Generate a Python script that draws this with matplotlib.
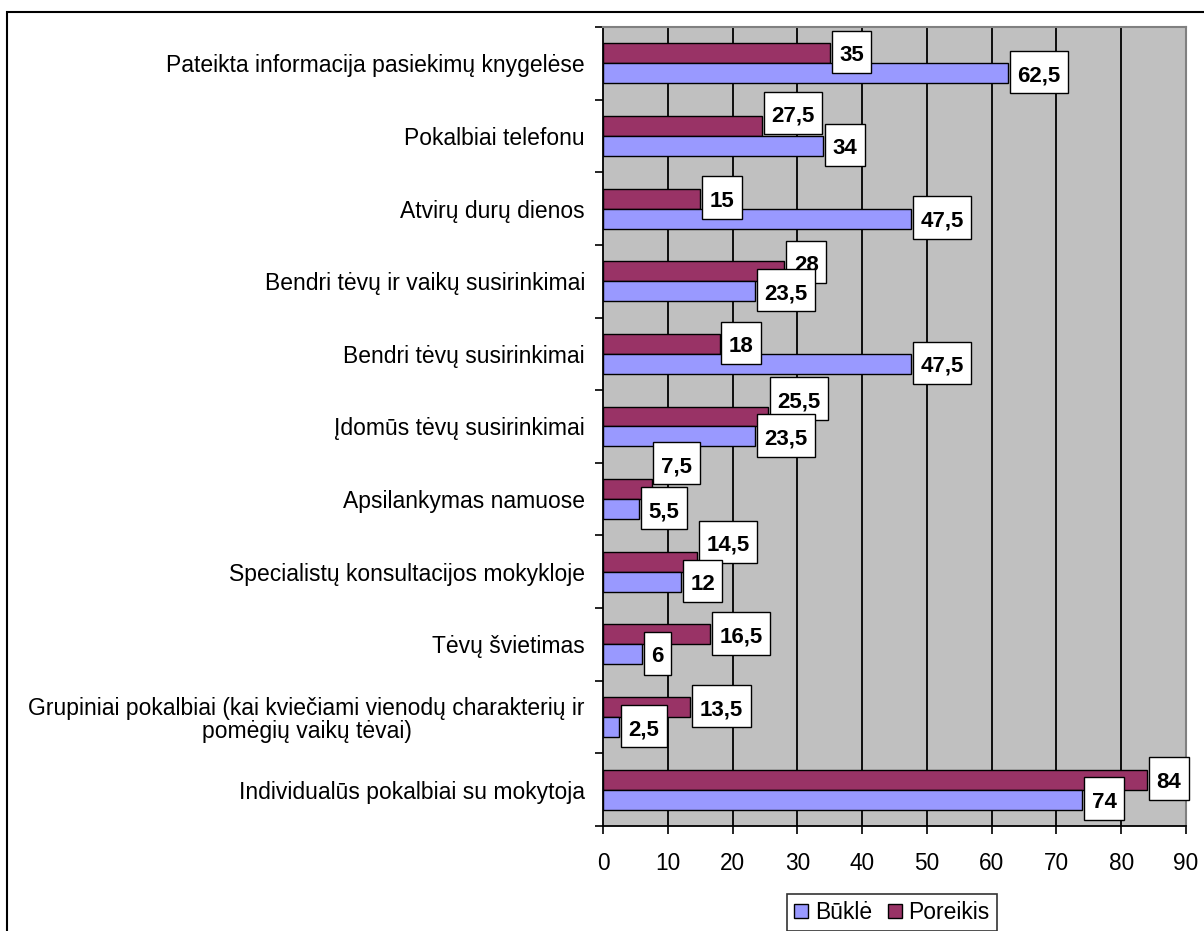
import matplotlib
matplotlib.use("Agg")
import matplotlib.pyplot as plt
from matplotlib.patches import Rectangle, Patch
from matplotlib.path import Path
import numpy as np

plt.rcParams['font.family'] = ['Liberation Sans', 'DejaVu Sans']

categories = [
    "Pateikta informacija pasiekimų knygelėse",
    "Pokalbiai telefonu",
    "Atvirų durų dienos",
    "Bendri tėvų ir vaikų susirinkimai",
    "Bendri tėvų susirinkimai",
    "Įdomūs tėvų susirinkimai",
    "Apsilankymas namuose",
    "Specialistų konsultacijos mokykloje",
    "Tėvų švietimas",
    "Grupiniai pokalbiai (kai kviečiami vienodų charakterių ir\npomėgių vaikų tėvai)",
    "Individualūs pokalbiai su mokytoja",
]
bukle = [62.5, 34, 47.5, 23.5, 47.5, 23.5, 5.5, 12, 6, 2.5, 74]
poreikis = [35, 27.5, 15, 28, 18, 25.5, 7.5, 14.5, 16.5, 13.5, 84]
# bar lengths as drawn in the picture (the "Pokalbiai telefonu" bar is shorter than its label)
poreikis_bar = [35, 24.5, 15, 28, 18, 25.5, 7.5, 14.5, 16.5, 13.5, 84]
series_names = ["Būklė", "Poreikis"]
xticks = [0, 10, 20, 30, 40, 50, 60, 70, 80, 90]

# Poreikis labels that were lifted to avoid the Būklė label (pixels up)
lift_px = [0, 12, 0, 8, 0, 17, 25, 19, 0, 0, 0]

c_bukle = "#9999FF"
c_poreikis = "#993366"

W, H = 1204, 931
fig = plt.figure(figsize=(W / 100, H / 100), dpi=100)
ax = fig.add_axes([603 / W, (H - 826) / H, (1186 - 603) / W, (826 - 27) / H])
ax.set_facecolor("#C0C0C0")

y = np.arange(len(categories))
h = 0.275
ax.barh(y - h / 2, poreikis_bar, height=h, color=c_poreikis, edgecolor="black", linewidth=1, zorder=3)
ax.barh(y + h / 2, bukle, height=h, color=c_bukle, edgecolor="black", linewidth=1, zorder=3)

ax.set_xlim(0, 90)
ax.set_ylim(len(categories) - 0.5, -0.5)
ax.set_xticks(xticks)
ax.set_xticklabels([str(t) for t in xticks], fontsize=16.3)
for t in xticks[1:-1]:
    ax.axvline(t, color="black", linewidth=1.3, zorder=1)

# boundaries as major ticks, category names as minor tick labels
ax.set_yticks(np.arange(-0.5, len(categories), 1.0))
ax.set_yticklabels([])
ax.set_yticks(y, minor=True)
ax.set_yticklabels(categories, minor=True, fontsize=16.5, multialignment="center", linespacing=1.0)
ax.tick_params(axis="y", which="minor", length=0, pad=13)
ax.tick_params(axis="y", which="major", length=6, width=1.2, direction="out")
ax.tick_params(axis="x", length=6, width=1.2, direction="out", pad=13)

for side in ["top", "right"]:
    ax.spines[side].set_color("#808080")
    ax.spines[side].set_linewidth(1.5)
for side in ["left", "bottom"]:
    ax.spines[side].set_linewidth(1.3)


def fmt(v):
    return ("%g" % v).replace(".", ",")


# excel-like label box: narrow on the sides, tall, centred on the digits
def label_box(x0, y0, width, height, mutation_size):
    px, py = 0.34 * mutation_size, 0.48 * mutation_size
    shift = 0.16 * mutation_size
    bx0, bx1 = x0 - px, x0 + width + px
    by0, by1 = y0 - py + shift, y0 + height + py + shift
    return Path([(bx0, by0), (bx1, by0), (bx1, by1), (bx0, by1), (bx0, by0)], closed=True)


def add_label(txt, xv, yv, dy_px=0):
    ax.annotate(txt, (xv, yv), xytext=(6.8, dy_px / 1.389), textcoords="offset points",
                ha="left", va="center_baseline", fontsize=16, fontweight="bold", zorder=5,
                bbox=dict(boxstyle=label_box, fc="white", ec="black", lw=1))


for yi, v, vb, lp in zip(y, poreikis, poreikis_bar, lift_px):
    add_label(fmt(v), vb, yi - h / 2, lp)
for yi, v in zip(y, bukle):
    add_label(fmt(v), v, yi + h / 2)

handles = [Patch(facecolor=c_bukle, edgecolor="black"), Patch(facecolor=c_poreikis, edgecolor="black")]
leg = fig.legend(handles, series_names, loc="upper center", bbox_to_anchor=(892 / W, (H - 894) / H),
                 ncol=2, fontsize=16.5, frameon=True, fancybox=False, handlelength=0.6, handleheight=0.6,
                 handletextpad=0.3, columnspacing=0.7, borderpad=0.3, borderaxespad=0)
leg.get_frame().set_edgecolor("black")
leg.get_frame().set_linewidth(1.2)

fig.patches.append(Rectangle((7 / W, -0.05), 1.0, (H - 12) / H + 0.05, transform=fig.transFigure,
                             fill=False, edgecolor="black", linewidth=1.5))

fig.savefig("out.png", dpi=100)
